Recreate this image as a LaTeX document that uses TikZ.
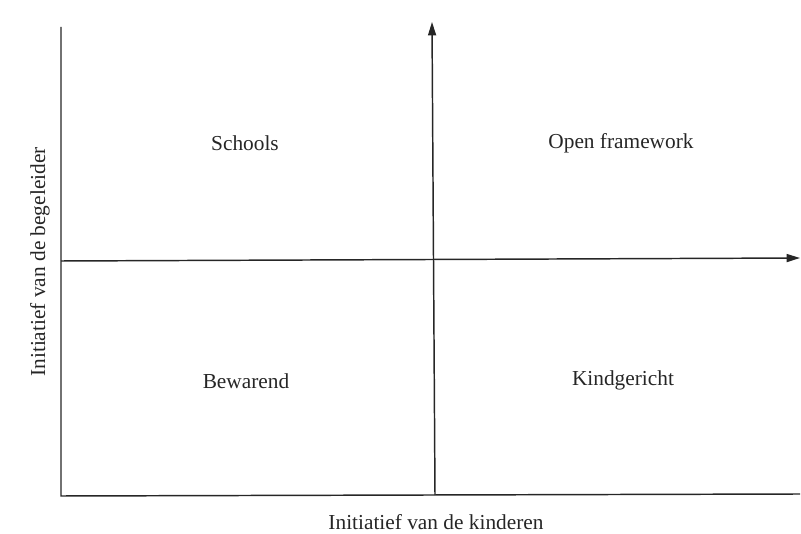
\documentclass[tikz,border=0pt]{standalone}
\usepackage{fontspec}
\setmainfont{Liberation Serif}
\usetikzlibrary{arrows.meta}
\begin{document}
\begin{tikzpicture}[x=0.75pt,y=-0.75pt,
  axis/.style={line width=1.1pt,draw=black!85},
  arr/.style={axis,-{Triangle[length=10pt,width=6pt]}},
  lbl/.style={font=\fontsize{16}{19}\selectfont,text=black!85,inner sep=0pt}]
\useasboundingbox (0,0) rectangle (801,534);
\coordinate (ltop) at (61,27);
\coordinate (origin) at (61,496);
\coordinate (bend) at (800,494);
\coordinate (vbot) at (435,495);
\coordinate (vtop) at (432,22);
\coordinate (hleft) at (61,261);
\coordinate (hright) at (800,258);
\draw[axis] (ltop) -- (origin) -- (bend);
\draw[arr] (vbot) -- (vtop);
\draw[arr] (hleft) -- (hright);
\node[lbl] (schools) at (245,143) {Schools};
\node[lbl] (open) at (621,143) {Open framework};
\node[lbl] (bew) at (246,381) {Bewarend};
\node[lbl] (kind) at (623,380) {Kindgericht};
\node[lbl] (xl) at (436,522) {Initiatief van de kinderen};
\node[lbl,rotate=90] (yl) at (40,262) {Initiatief van de begeleider};
\end{tikzpicture}
\end{document}
